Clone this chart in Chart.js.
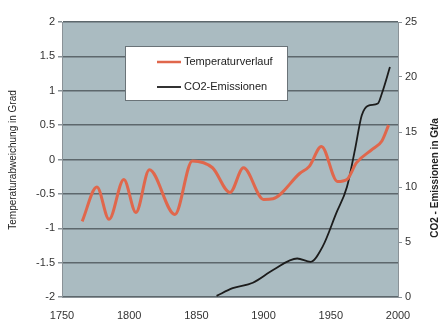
<!DOCTYPE html>
<html>
<head>
<meta charset="utf-8">
<script src="https://cdn.jsdelivr.net/npm/chart.js@4"></script>
<style>
  html, body { margin: 0; padding: 0; background: #fff; }
  #wrap { width: 445px; height: 329px; }
</style>
</head>
<body>
<div id="wrap"><canvas id="chart" width="445" height="329"></canvas></div>
<script>
// temperature anomaly (left axis, degrees)
const tempYears = [1765, 1776, 1785, 1796, 1805, 1815, 1834, 1847, 1862, 1875, 1885, 1900, 1907, 1927, 1934, 1943, 1955, 1962, 1969, 1981, 1988, 1993];
const tempValues = [-0.9, -0.4, -0.87, -0.29, -0.77, -0.15, -0.8, -0.02, -0.12, -0.48, -0.12, -0.58, -0.57, -0.2, -0.1, 0.19, -0.32, -0.29, -0.05, 0.15, 0.27, 0.5];

// CO2 emissions (right axis, Gt/a)
const co2Years = [1865, 1877, 1892, 1907, 1925, 1935, 1944, 1954, 1962, 1968, 1973, 1978, 1985, 1988, 1994];
const co2Values = [0.1, 0.8, 1.3, 2.45, 3.5, 3.2, 4.6, 7.6, 10.0, 13.4, 16.5, 17.4, 17.6, 18.5, 20.9];

const xTicks = [1750, 1800, 1850, 1900, 1950, 2000];
const leftTicks = [2, 1.5, 1, 0.5, 0, -0.5, -1, -1.5, -2];
const rightTicks = [0, 5, 10, 15, 20, 25];

const seriesNames = ["Temperaturverlauf", "CO2-Emissionen"];
const leftTitle = "Temperaturabweichung in Grad";
const rightTitle = "CO2 - Emissionen in Gt/a";

const tickFont = { family: "Arial, 'Liberation Sans', sans-serif", size: 11 };
const plainLabel = (value) => String(value);

// paint the plot area grey-blue before the datasets are drawn
const plotBackground = {
    id: "plotBackground",
    beforeDraw(chart) {
        const { ctx, chartArea } = chart;
        ctx.save();
        ctx.fillStyle = "#aabbc1";
        ctx.fillRect(chartArea.left, chartArea.top, chartArea.right - chartArea.left, chartArea.bottom - chartArea.top);
        ctx.restore();
    }
};

// legend box inside the plot and the two rotated axis titles
const boxLegend = {
    id: "boxLegend",
    afterDraw(chart) {
        const ctx = chart.ctx;
        ctx.save();
        ctx.fillStyle = "#ffffff";
        ctx.fillRect(125, 46, 162, 54);
        ctx.strokeStyle = "#6a7378";
        ctx.lineWidth = 1;
        ctx.strokeRect(125.5, 46.5, 162, 54);

        const colors = [chart.data.datasets[0].borderColor, chart.data.datasets[1].borderColor];
        const rows = [62, 87];
        ctx.font = "11px Arial, 'Liberation Sans', sans-serif";
        ctx.textBaseline = "middle";
        seriesNames.forEach((name, i) => {
            ctx.strokeStyle = colors[i];
            ctx.lineWidth = i === 0 ? 2.5 : 1.8;
            ctx.beginPath();
            ctx.moveTo(157, rows[i]);
            ctx.lineTo(181, rows[i]);
            ctx.stroke();
            ctx.fillStyle = "#222";
            ctx.fillText(name, 184, rows[i]);
        });

        // axis titles, both read bottom to top
        ctx.font = "10px Arial, 'Liberation Sans', sans-serif";
        ctx.textAlign = "center";
        ctx.fillStyle = "#222";
        ctx.translate(13, 160);
        ctx.rotate(-Math.PI / 2);
        ctx.fillText(leftTitle, 0, 0);
        ctx.restore();

        ctx.save();
        ctx.font = "bold 10px Arial, 'Liberation Sans', sans-serif";
        ctx.textAlign = "center";
        ctx.textBaseline = "middle";
        ctx.fillStyle = "#222";
        ctx.translate(435, 178);
        ctx.rotate(-Math.PI / 2);
        ctx.fillText(rightTitle, 0, 0);
        ctx.restore();
    }
};

const ctx = document.getElementById("chart").getContext("2d");

new Chart(ctx, {
    type: "line",
    data: {
        datasets: [
            {
                label: seriesNames[0],
                data: tempYears.map((year, i) => ({ x: year, y: tempValues[i] })),
                borderColor: "#e0674c",
                borderWidth: 3,
                pointRadius: 0,
                cubicInterpolationMode: "monotone",
                yAxisID: "yTemp",
            },
            {
                label: seriesNames[1],
                data: co2Years.map((year, i) => ({ x: year, y: co2Values[i] })),
                borderColor: "#1c1c1c",
                borderWidth: 1.8,
                pointRadius: 0,
                cubicInterpolationMode: "monotone",
                yAxisID: "yCo2",
            },
        ],
    },
    options: {
        responsive: false,
        animation: false,
        layout: { padding: { top: 22, left: 0, right: 0, bottom: 0 } },
        plugins: {
            legend: { display: false },
            tooltip: { enabled: false },
        },
        scales: {
            x: {
                type: "linear",
                min: 1750,
                max: 2000,
                afterBuildTicks: (scale) => { scale.ticks = xTicks.map((v) => ({ value: v })); },
                afterFit: (scale) => { scale.height = 32; },
                grid: { display: false, drawTicks: true },
                border: { color: "#8a9297", width: 1 },
                ticks: { color: "#333", font: tickFont, padding: 4, maxRotation: 0, callback: plainLabel },
            },
            yTemp: {
                position: "left",
                min: -2,
                max: 2,
                afterBuildTicks: (scale) => { scale.ticks = leftTicks.map((v) => ({ value: v })); },
                afterFit: (scale) => { scale.width = 62; },
                grid: { color: "#5d676c", lineWidth: 1.5, tickLength: 4, tickColor: "#8a9297" },
                border: { color: "#8a9297", width: 1 },
                ticks: { color: "#333", font: tickFont, padding: 3, callback: plainLabel },
            },
            yCo2: {
                position: "right",
                min: 0,
                max: 25,
                afterBuildTicks: (scale) => { scale.ticks = rightTicks.map((v) => ({ value: v })); },
                afterFit: (scale) => { scale.width = 47; },
                grid: { drawOnChartArea: false, tickLength: 4, color: "#8a9297" },
                border: { color: "#8a9297", width: 1 },
                ticks: { color: "#333", font: tickFont, padding: 3, callback: plainLabel },
            },
        },
    },
    plugins: [plotBackground, boxLegend],
});
</script>
</body>
</html>
